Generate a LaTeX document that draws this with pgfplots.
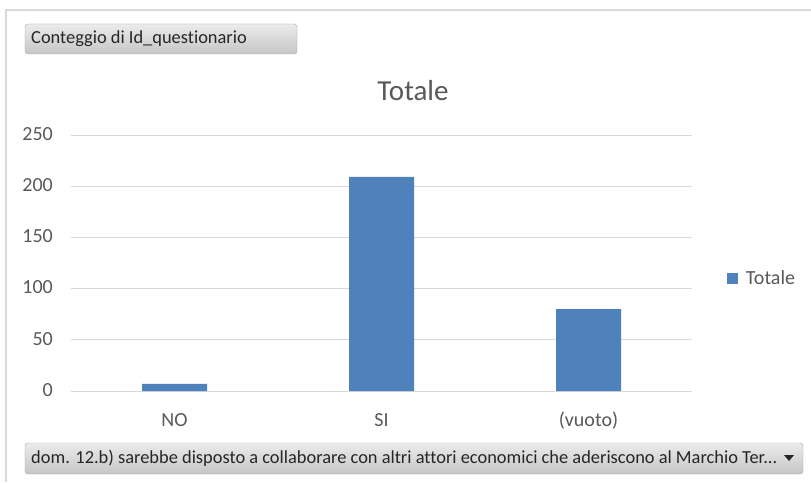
\documentclass[border=0pt]{standalone}
\usepackage{pgfplots}
\pgfplotsset{compat=1.18}
\usepackage{fontspec}
\setmainfont{Carlito}[Ligatures=NoCommon]
\definecolor{barblue}{HTML}{4F81BD}
\definecolor{txt}{HTML}{595959}
\definecolor{gridc}{HTML}{D9D9D9}
\definecolor{btop}{HTML}{EBEBEB}
\definecolor{bbot}{HTML}{C6C6C6}
\definecolor{bdraw}{HTML}{A6A6A6}
\begin{document}
\begin{tikzpicture}[x=1pt,y=1pt]
\useasboundingbox (0,0) rectangle (811,482);
\fill[white] (0,0) rectangle (811,482);
\draw[gridc, line width=2pt] (6,0) -- (6,472) -- (811,472);
% top field button
\shadedraw[draw=bdraw, top color=btop, bottom color=bbot, rounded corners=3pt] (25,428) rectangle (297,458);
\node[anchor=west, inner sep=0pt, font=\fontsize{18.4}{18.4}\selectfont, text=black!85] at (31,443) {Conteggio di Id\_questionario};
% bottom field button
\shadedraw[draw=bdraw, top color=btop, bottom color=bbot, rounded corners=3pt] (25,8) rectangle (803,39);
\node[anchor=west, inner sep=0pt, font=\fontsize{18.4}{18.4}\selectfont, text=black!85] at (31,23.5) {dom. 12.b) sarebbe disposto a collaborare con altri attori economici che aderiscono al Marchio Ter...};
\fill[black!85] (784,27) -- (794,27) -- (789,21) -- cycle;
% title
\node[font=\fontsize{29}{29}\selectfont, text=txt] at (413,391) {Totale};
\begin{axis}[
  at={(71pt,91pt)}, anchor=south west,
  scale only axis, width=621pt, height=256pt,
  ymin=0, ymax=250, ytick={0,50,100,150,200,250},
  xmin=-0.5, xmax=2.5, xtick={0,1,2}, xticklabels={NO,SI,(vuoto)},
  ymajorgrids, major grid style={gridc, line width=1pt},
  axis line style={draw=none},
  major tick length=0pt,
  /pgf/number format/assume math mode=true,
  ticklabel style={font=\fontsize{20}{20}\selectfont, text=txt},
  yticklabel style={anchor=mid east, inner sep=0pt, xshift=-18pt, yshift=-3pt},
  xticklabel style={anchor=base, inner sep=0pt, yshift=-35pt},
  ybar, bar width=65pt,
  legend style={at={(1.056,0.441)}, anchor=west, draw=none, fill=none,
    font=\fontsize{20}{20}\selectfont, text=txt, inner sep=0pt,
    /tikz/every odd column/.append style={column sep=6pt}},
  legend image code/.code={\fill[barblue] (0pt,-5.5pt) rectangle (11pt,5.5pt);},
]
\addplot[fill=barblue, draw=none] coordinates {(0,7) (1,209) (2,80)};
\addlegendentry{Totale}
\end{axis}
\end{tikzpicture}
\end{document}
